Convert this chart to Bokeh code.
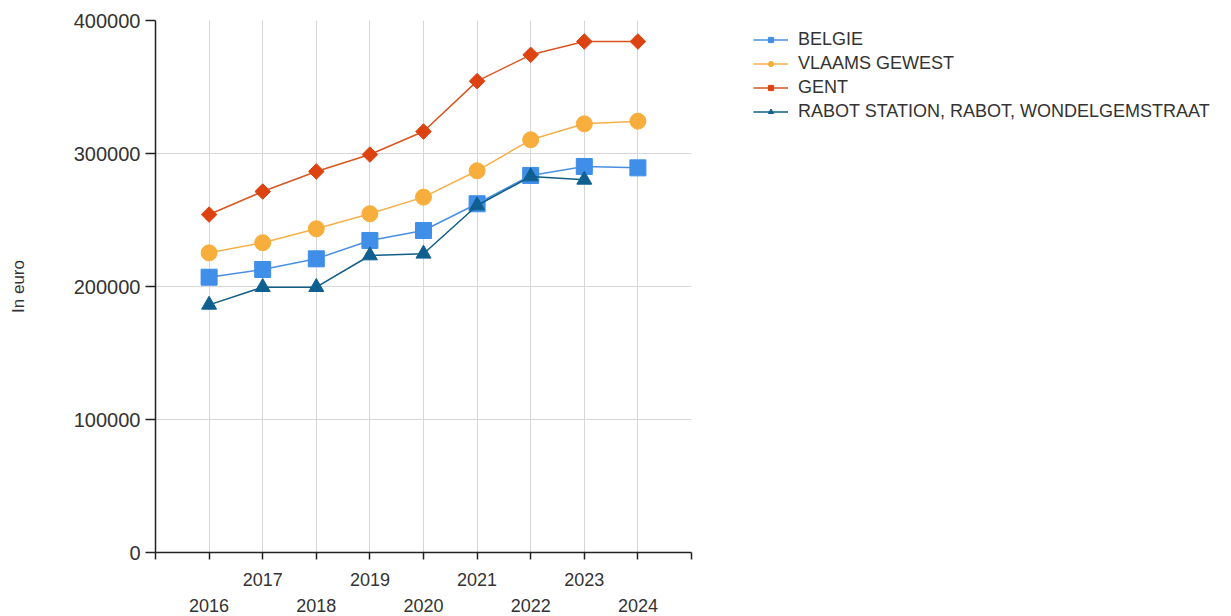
import numpy as np
from bokeh.plotting import figure
from bokeh.layouts import row
from bokeh.models import (FixedTicker, LinearAxis, Legend, LegendItem,
                          NumeralTickFormatter, Range1d)
from bokeh.embed import file_html
from bokeh.resources import INLINE

# ---- data ----
years = [2016, 2017, 2018, 2019, 2020, 2021, 2022, 2023, 2024]
belgie = [207000, 212800, 220800, 234600, 242100, 262200, 283500, 290200, 289200]
vlaams = [225300, 232900, 243400, 254700, 267200, 287000, 310300, 322300, 324300]
gent = [254100, 271400, 286500, 299200, 316500, 354400, 374200, 384200, 384200]
rabot = [186200, 199500, 199500, 223300, 224600, 260900, 282700, 280200, np.nan]
series_names = ["BELGIE", "VLAAMS GEWEST", "GENT", "RABOT STATION, RABOT, WONDELGEMSTRAAT"]
y_ticks = [0, 100000, 200000, 300000, 400000]
y_label = "In euro"

FONT = "Liberation Sans"
TXT = "#333333"
AX = "#222222"

p = figure(frame_width=536, frame_height=532, min_border_left=155, min_border_top=20,
           min_border_right=10, min_border_bottom=10,
           x_range=Range1d(2015, 2025), y_range=Range1d(0, 400000),
           output_backend="svg", toolbar_location=None, x_axis_location=None,
           y_axis_location=None, align="start")
p.outline_line_color = None

# y axis
yax = LinearAxis(ticker=FixedTicker(ticks=y_ticks),
                 formatter=NumeralTickFormatter(format="0"))
yax.axis_label = y_label
yax.axis_label_text_font = FONT
yax.axis_label_text_font_style = "normal"
yax.axis_label_text_font_size = "17px"
yax.axis_label_text_color = TXT
yax.axis_label_standoff = 43
yax.major_label_text_font = FONT
yax.major_label_text_font_size = "20px"
yax.major_label_text_color = TXT
yax.major_label_standoff = 5
yax.major_tick_out = 10
yax.major_tick_in = 0
yax.minor_tick_out = 0
yax.minor_tick_in = 0
yax.axis_line_color = AX
yax.axis_line_width = 1.5
yax.major_tick_line_color = AX
yax.major_tick_line_width = 1.5
p.add_layout(yax, "left")

# x axes: staggered labels
all_years = list(range(2015, 2026))
odd_over = {y: (str(y) if (y in years and y % 2 == 1) else "") for y in all_years}
even_over = {y: (str(y) if (y in years and y % 2 == 0) else "") for y in all_years}

xax1 = LinearAxis(ticker=FixedTicker(ticks=all_years))
xax1.major_label_overrides = odd_over
xax1.major_label_text_font = FONT
xax1.major_label_text_font_size = "18px"
xax1.major_label_text_color = TXT
xax1.major_label_standoff = 13
xax1.major_tick_out = 7
xax1.major_tick_in = 0
xax1.minor_tick_out = 0
xax1.minor_tick_in = 0
xax1.axis_line_color = AX
xax1.axis_line_width = 1.5
xax1.major_tick_line_color = AX
xax1.major_tick_line_width = 1.5
p.add_layout(xax1, "below")

xax2 = LinearAxis(ticker=FixedTicker(ticks=all_years))
xax2.major_label_overrides = even_over
xax2.major_label_text_font = FONT
xax2.major_label_text_font_size = "18px"
xax2.major_label_text_color = TXT
xax2.major_label_standoff = 10
xax2.major_tick_out = 0
xax2.major_tick_in = 0
xax2.minor_tick_out = 0
xax2.minor_tick_in = 0
xax2.axis_line_color = None
xax2.major_tick_line_color = None
p.add_layout(xax2, "below")

# grids
p.xgrid.ticker = FixedTicker(ticks=years + [2025])
p.ygrid.ticker = FixedTicker(ticks=y_ticks[1:])
for g in (p.xgrid, p.ygrid):
    g.grid_line_color = "#d6d6d6"
    g.grid_line_width = 1

styles = [
    dict(line="#4a90e2", fill="#3f8ee8", marker="square", size=16, angle=0),
    dict(line="#f5b04a", fill="#f8ae3c", marker="circle", size=16, angle=0),
    dict(line="#d9541e", fill="#dc4310", marker="square", size=11, angle=np.pi / 4),
    dict(line="#115e86", fill="#0f6090", marker="triangle", size=15, angle=0),
]
data = [belgie, vlaams, gent, rabot]

# legend figure (the series drawn there fall outside its ranges; only the legend shows)
q = figure(width=525, height=636, x_range=Range1d(0, 1), y_range=Range1d(0, 1),
           output_backend="svg", toolbar_location=None, min_border=0,
           min_border_left=43, min_border_top=0, align="start", title=None)
q.axis.visible = False
q.grid.visible = False
q.outline_line_color = None

items = []
for name, vals, st in zip(series_names, data, styles):
    p.line(years, vals, line_color=st["line"], line_width=1.5)
    p.scatter(years, vals, marker=st["marker"], size=st["size"], angle=st["angle"],
              fill_color=st["fill"], line_color=st["fill"])
    ln = q.line(years, vals, line_color=st["line"], line_width=1.5)
    sc = q.scatter(years, vals, marker=st["marker"], size=st["size"], angle=st["angle"],
                   fill_color=st["fill"], line_color=st["fill"])
    items.append(LegendItem(label=name, renderers=[ln, sc]))

legend = Legend(items=items, location="top_left")
legend.padding = 0
legend.margin = 9
legend.spacing = 3
legend.glyph_width = 35
legend.glyph_height = 13
legend.label_standoff = 10
legend.label_height = 20
legend.label_text_font = FONT
legend.label_text_font_size = "18px"
legend.label_text_color = TXT
legend.border_line_color = None
legend.background_fill_alpha = 0
q.add_layout(legend)

layout = row(p, q, align="start")
open("out.html", "w").write(file_html(layout, INLINE))
